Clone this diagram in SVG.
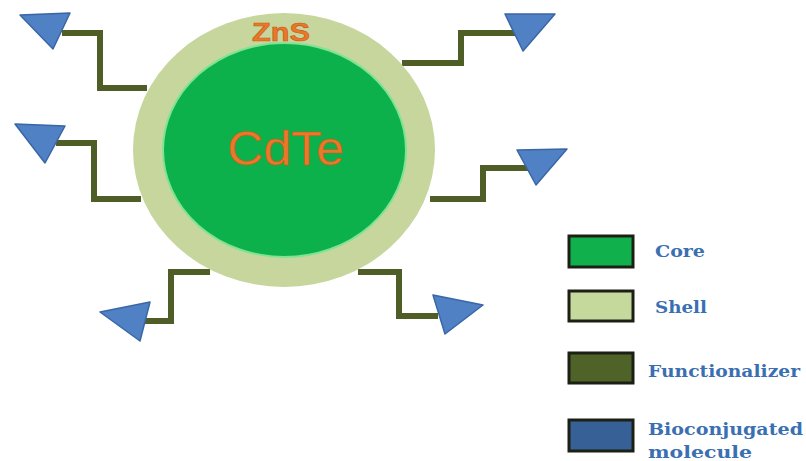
<svg xmlns="http://www.w3.org/2000/svg" width="806" height="461" viewBox="0 0 806 461">
<defs>
<style>
.link{fill:none;stroke:#4f5e26;stroke-width:6;stroke-linejoin:miter}
.tri{fill:#4f81c4;stroke:#3a66a6;stroke-width:1.5;stroke-linejoin:round}
.lbox{stroke:#1c1f14;stroke-width:3}
.ltxt{font-family:"DejaVu Serif","Liberation Serif",serif;font-weight:bold;font-size:17px;fill:#3a6fb2}
.orange{font-family:"Liberation Sans",Arial,sans-serif;fill:#e8782a;stroke:#c85a18;stroke-width:0.6}
</style>
</defs>
<rect width="806" height="461" fill="#ffffff"/>
<g id="connectors">
<polyline class="link" points="147,88 100,88 100,33 62,33"/>
<polyline class="link" points="141,199 94,199 94,143 56,143"/>
<polyline class="link" points="402,63 461,63 461,33 518,33"/>
<polyline class="link" points="430,199 483,199 483,168 528,168"/>
<polyline class="link" points="210,272 171,272 171,321 144,321"/>
<polyline class="link" points="358,272 399,272 399,316 438,316"/>
</g>
<g id="shell">
<ellipse cx="284" cy="150" rx="151" ry="137" fill="#c6d69c"/>
<text class="orange" x="281" y="41" font-size="26" font-weight="bold" text-anchor="middle" textLength="58" lengthAdjust="spacingAndGlyphs">ZnS</text>
</g>
<g id="core">
<ellipse cx="284.5" cy="150" rx="121.5" ry="107" fill="#0cb14b" stroke="#7fe394" stroke-width="2"/>
<text class="orange" x="286" y="165" font-size="48" text-anchor="middle" textLength="117" lengthAdjust="spacingAndGlyphs">CdTe</text>
</g>
<g id="molecules">
<polygon class="tri" points="20,15 70,13 53,49"/>
<polygon class="tri" points="15,124 65,126 45,163"/>
<polygon class="tri" points="505,14 555,14 523,51"/>
<polygon class="tri" points="517,150 567,149 536,185"/>
<polygon class="tri" points="100,312 150,302 140,341"/>
<polygon class="tri" points="433,295 483,305 445,334"/>
</g>
<g id="legend-core">
<rect class="lbox" x="569" y="236" width="64" height="31" fill="#10b04c"/>
<text class="ltxt" x="655" y="257" textLength="50" lengthAdjust="spacingAndGlyphs">Core</text>
</g>
<g id="legend-shell">
<rect class="lbox" x="569" y="291" width="64" height="30" fill="#c6d99c"/>
<text class="ltxt" x="655" y="313" textLength="52" lengthAdjust="spacingAndGlyphs">Shell</text>
</g>
<g id="legend-functionalizer">
<rect class="lbox" x="569" y="353" width="64" height="30" fill="#4f6228"/>
<text class="ltxt" x="648" y="377" textLength="152" lengthAdjust="spacingAndGlyphs">Functionalizer</text>
</g>
<g id="legend-bioconjugated">
<rect class="lbox" x="569" y="420" width="64" height="31" fill="#376196"/>
<text class="ltxt" x="648" y="435" textLength="155" lengthAdjust="spacingAndGlyphs">Bioconjugated</text>
<text class="ltxt" x="648" y="458" font-size="18" textLength="104" lengthAdjust="spacingAndGlyphs">molecule</text>
</g>
</svg>
